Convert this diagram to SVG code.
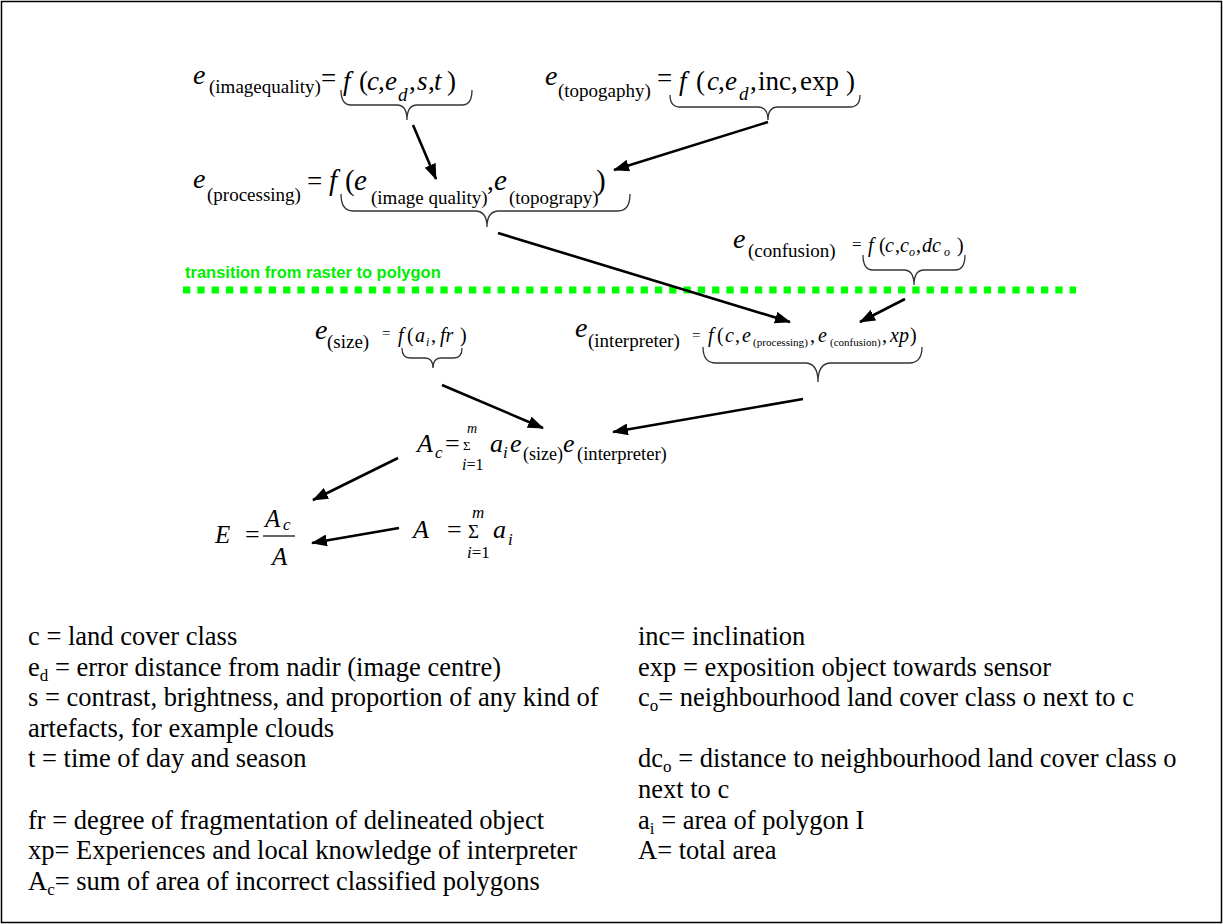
<svg xmlns="http://www.w3.org/2000/svg" width="1223" height="924" viewBox="0 0 1223 924">
<style>
text{font-family:"Liberation Serif","Times New Roman",serif;fill:#000}
.it{font-style:italic}
.m{font-size:28px}
.f{font-size:27px}
.s{font-size:19px}
.g{font-size:20px}
.t{font-size:12px}
.lg{font-size:26.5px}
.brace{fill:none;stroke:#333;stroke-width:1.3}
.arr{stroke:#000;stroke-width:2.6;fill:none;marker-end:url(#ah)}
</style>
<defs>
<marker id="ah" markerUnits="userSpaceOnUse" markerWidth="16" markerHeight="12" refX="15" refY="6" orient="auto">
<path d="M0,0 L16,6 L0,12 Z" fill="#000"/>
</marker>
</defs>
<rect x="1.5" y="1.5" width="1220" height="921" fill="#fff" stroke="#000" stroke-width="1.5"/>

<g id="imagequality">
<text class="it m" x="193" y="84">e</text>
<text class="s" x="209" y="93" font-size="18.7">(imagequality)</text>
<text class="f" x="321" y="87">=</text>
<text class="it f" x="343" y="90">f</text>
<text class="f" x="359" y="90">(</text>
<text class="it f" x="367" y="90">c</text>
<text class="f" x="378" y="90">,</text>
<text class="it f" x="385" y="90">e</text>
<text class="it s" x="398" y="101">d</text>
<text class="f" x="409" y="90">,</text>
<text class="it f" x="417" y="90">s</text>
<text class="f" x="428" y="90">,</text>
<text class="it f" x="434" y="90">t</text>
<text class="f" x="447" y="90">)</text>
<path class="brace" d="M341,90 Q341,105 351,105 L397,105 Q407,105 407,120 Q407,105 417,105 L462,105 Q472,105 472,90"/>
</g>

<g id="topography">
<text class="it m" x="545" y="85">e</text>
<text class="s" x="558" y="97">(topogaphy)</text>
<text class="f" x="657" y="87">=</text>
<text class="it f" x="679" y="90">f</text>
<text class="f" x="696" y="90">(</text>
<text class="it f" x="707" y="90">c</text>
<text class="f" x="718" y="90">,</text>
<text class="it f" x="725" y="90">e</text>
<text class="it s" x="739" y="100">d</text>
<text class="f" x="750" y="90">,</text>
<text class="f" x="758" y="90">inc,</text>
<text class="f" x="800" y="90">exp</text>
<text class="f" x="846" y="90">)</text>
<path class="brace" d="M670,95 Q670,107 680,107 L758,107 Q768,107 768,120 Q768,107 778,107 L850,107 Q860,107 860,95"/>
</g>

<g id="processing">
<text class="it m" x="193" y="188">e</text>
<text class="s" x="207" y="201" font-size="18.8">(processing)</text>
<text class="f" x="307" y="190">=</text>
<text class="it" x="329" y="190" font-size="29">f</text>
<text x="345" y="190" font-size="29">(</text>
<text class="it" x="354" y="190" font-size="29">e</text>
<text class="s" x="371" y="204" font-size="18.4">(image quality)</text>
<text class="f" x="487" y="190">,</text>
<text class="it" x="494" y="190" font-size="29">e</text>
<text class="s" x="509" y="204" font-size="18.3">(topograpy)</text>
<text x="596" y="190" font-size="29">)</text>
<path class="brace" d="M341,194 Q341,211 353,211 L475,211 Q487,211 487,227 Q487,211 499,211 L618,211 Q630,211 630,194"/>
</g>

<g id="confusion">
<text class="it m" x="733" y="248">e</text>
<text class="s" x="748" y="257" font-size="19.5">(confusion)</text>
<text x="852" y="250" font-size="17">=</text>
<text class="it g" x="868" y="252">f</text>
<text class="g" x="879" y="252">(</text>
<text class="it g" x="885" y="252">c</text>
<text class="g" x="895" y="252">,</text>
<text class="it g" x="900" y="252">c</text>
<text class="it t" x="909" y="256">o</text>
<text class="g" x="916" y="252">,</text>
<text class="it g" x="922" y="252">dc</text>
<text class="it t" x="944" y="256">o</text>
<text class="g" x="957" y="252">)</text>
<path class="brace" d="M863,255 Q863,270 873,270 L904,270 Q914,270 914,285 Q914,270 924,270 L955,270 Q965,270 965,255"/>
</g>

<g id="transition">
<line x1="183" y1="290" x2="1076" y2="290" stroke="#00ff00" stroke-width="7" stroke-dasharray="7.3 7"/>
<text x="185" y="278" font-size="16.5" font-weight="bold" style="font-family:'Liberation Sans',Arial,sans-serif;fill:#00ee00">transition from raster to polygon</text>
</g>

<g id="size">
<text class="it m" x="315" y="339">e</text>
<text class="s" x="327" y="348">(size)</text>
<text x="382" y="338" font-size="15">=</text>
<text class="it g" x="398" y="342">f</text>
<text class="g" x="407" y="342">(</text>
<text class="it g" x="415" y="342">a</text>
<text class="it t" x="426" y="346">i</text>
<text class="g" x="431" y="342">,</text>
<text class="it g" x="440" y="342">fr</text>
<text class="g" x="460" y="342">)</text>
<path class="brace" d="M402,348 Q402,358 410,358 L425,358 Q433,358 433,368 Q433,358 441,358 L454,358 Q462,358 462,348"/>
</g>

<g id="interpreter">
<text class="it m" x="575" y="337">e</text>
<text class="s" x="588" y="347" font-size="18.6">(interpreter)</text>
<text x="692" y="340" font-size="15">=</text>
<text class="it g" x="708" y="342">f</text>
<text class="g" x="717" y="342">(</text>
<text class="it g" x="725" y="342">c</text>
<text class="g" x="735" y="342">,</text>
<text class="it g" x="742" y="342">e</text>
<text x="753" y="346" font-size="11.1">(processing)</text>
<text class="g" x="810" y="342">,</text>
<text class="it g" x="818" y="342">e</text>
<text x="830" y="346" font-size="11">(confusion)</text>
<text class="g" x="882" y="342">,</text>
<text class="it g" x="890" y="342">xp</text>
<text class="g" x="910" y="342">)</text>
<path class="brace" d="M703,347 Q703,363 716,363 L805,363 Q818,363 818,382 Q818,363 831,363 L909,363 Q922,363 922,347"/>
</g>

<g id="Ac">
<text class="it" x="417" y="452" font-size="26">A</text>
<text class="it" x="435" y="458" font-size="17">c</text>
<text x="445" y="452" font-size="26">=</text>
<text class="it" x="467" y="433" font-size="14">m</text>
<text x="463" y="450" font-size="13">Σ</text>
<text x="462" y="470" font-size="16"><tspan class="it">i</tspan>=1</text>
<text class="it" x="490" y="452" font-size="26">a</text>
<text class="it" x="503" y="458" font-size="17">i</text>
<text class="it" x="510" y="452" font-size="26">e</text>
<text x="523" y="460" font-size="18">(size)</text>
<text class="it" x="563" y="452" font-size="26">e</text>
<text x="577" y="460" font-size="18.6">(interpreter)</text>
</g>

<g id="E">
<text class="it" x="215" y="543" font-size="25">E</text>
<text x="245" y="543" font-size="26">=</text>
<text class="it" x="265" y="527" font-size="25">A</text>
<text class="it" x="283" y="530" font-size="17">c</text>
<line x1="263" y1="536" x2="295" y2="536" stroke="#000" stroke-width="1.2"/>
<text class="it" x="272" y="565" font-size="25">A</text>
</g>

<g id="A">
<text class="it" x="413" y="538" font-size="26">A</text>
<text x="447" y="538" font-size="26">=</text>
<text class="it" x="472" y="518" font-size="17">m</text>
<text x="468" y="538" font-size="19">Σ</text>
<text x="467" y="558" font-size="17"><tspan class="it">i</tspan>=1</text>
<text class="it" x="493" y="538" font-size="26">a</text>
<text class="it" x="508" y="545" font-size="17">i</text>
</g>

<g id="connectors">
<line class="arr" x1="413" y1="125" x2="436" y2="179"/>
<line class="arr" x1="768" y1="122" x2="614" y2="170"/>
<line class="arr" x1="498" y1="233" x2="790" y2="322"/>
<line class="arr" x1="905" y1="299" x2="860" y2="322"/>
<line class="arr" x1="442" y1="385" x2="543" y2="428"/>
<line class="arr" x1="803" y1="399" x2="613" y2="432"/>
<line class="arr" x1="398" y1="458" x2="313" y2="500"/>
<line class="arr" x1="399" y1="528" x2="312" y2="543"/>
</g>

<g id="legend" class="lg">
<text class="lg" x="28" y="645">c = land cover class</text>
<text class="lg" x="28" y="675.6">e<tspan font-size="17" dy="5">d</tspan><tspan dy="-5"> = error distance from nadir (image centre)</tspan></text>
<text class="lg" x="28" y="706.2">s = contrast, brightness, and proportion of any kind of</text>
<text class="lg" x="28" y="736.8">artefacts, for example clouds</text>
<text class="lg" x="28" y="767.4">t = time of day and season</text>
<text class="lg" x="28" y="828.6">fr = degree of fragmentation of delineated object</text>
<text class="lg" x="28" y="859.2">xp= Experiences and local knowledge of interpreter</text>
<text class="lg" x="28" y="889.8">A<tspan font-size="17" dy="5">c</tspan><tspan dy="-5">= sum of area of incorrect classified polygons</tspan></text>
<text class="lg" x="638" y="645">inc= inclination</text>
<text class="lg" x="638" y="675.6">exp = exposition object towards sensor</text>
<text class="lg" x="638" y="706.2">c<tspan font-size="17" dy="5">o</tspan><tspan dy="-5">= neighbourhood land cover class o next to c</tspan></text>
<text class="lg" x="638" y="767.4">dc<tspan font-size="17" dy="5">o</tspan><tspan dy="-5"> = distance to neighbourhood land cover class o</tspan></text>
<text class="lg" x="638" y="798">next to c</text>
<text class="lg" x="638" y="828.6">a<tspan font-size="17" dy="5">i</tspan><tspan dy="-5"> = area of polygon I</tspan></text>
<text class="lg" x="638" y="859.2">A= total area</text>
</g>
</svg>
